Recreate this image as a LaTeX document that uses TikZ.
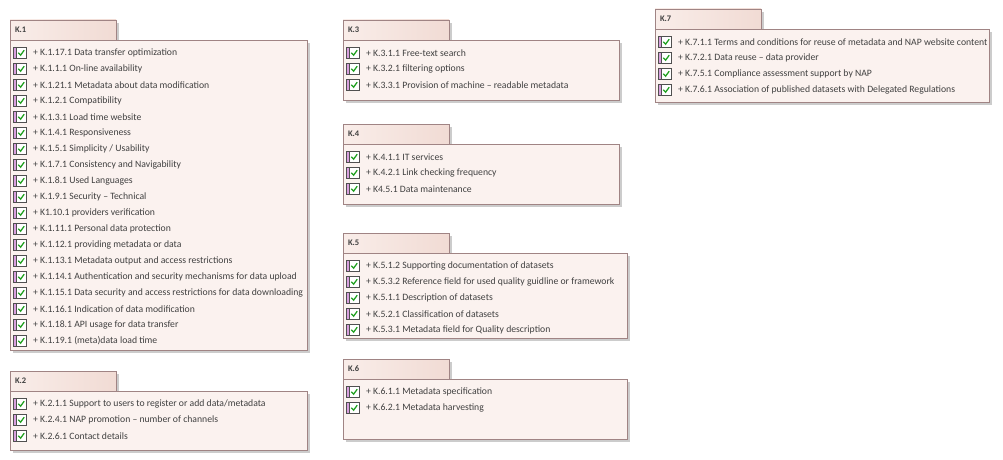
\documentclass[tikz,border=0pt]{standalone}
\usepackage{fontspec}
\setmainfont{Carlito}
\usepackage{xcolor}
\usetikzlibrary{positioning, shadows}
\definecolor{pkgline}{HTML}{A08484}
\definecolor{pkgfill}{HTML}{FBF2EF}
\definecolor{tableft}{HTML}{F9EDE9}
\definecolor{tabright}{HTML}{F1DBD4}
\definecolor{pkgshadow}{HTML}{CCCCCC}
\definecolor{chkgreen}{HTML}{1FA01F}
\definecolor{chkbar}{HTML}{D9A0DE}
\definecolor{chkline}{HTML}{505050}
\definecolor{txtgray}{HTML}{404040}
\tikzstyle{pkgtab} = [rectangle, anchor=north west, draw=pkgline, left color=tableft, right color=tabright, minimum height=20pt, text width=96pt, inner xsep=5pt, inner ysep=0pt, outer sep=0pt, align=left, text=txtgray, font=\fontsize{8.5}{9}\selectfont\bfseries, drop shadow={shadow xshift=3pt, shadow yshift=-3pt, fill=pkgshadow, opacity=1}]
\tikzstyle{pkgbody} = [rectangle, draw=pkgline, fill=pkgfill, inner sep=0pt, outer sep=0pt, drop shadow={shadow xshift=3pt, shadow yshift=-3pt, fill=pkgshadow, opacity=1}]
\tikzstyle{req} = [rectangle, anchor=north west, minimum height=16pt, inner sep=0pt, outer sep=0pt, text=txtgray, font=\fontsize{9.7}{10}\selectfont, execute at begin node=\hspace*{21pt},
  path picture={
    \coordinate (icw) at (path picture bounding box.west);
    \filldraw[draw=chkline, fill=white, line width=0.6pt] ([xshift=1pt, yshift=-5.3pt]icw) rectangle ([xshift=14pt, yshift=5.3pt]icw);
    \filldraw[draw=chkline, fill=chkbar, line width=0.6pt] ([xshift=1pt, yshift=-5.3pt]icw) rectangle ([xshift=3.8pt, yshift=5.3pt]icw);
    \draw[chkgreen, line width=1.25pt] ([xshift=6.3pt, yshift=0.3pt]icw) -- ([xshift=8.6pt, yshift=-2.2pt]icw) -- ([xshift=12.2pt, yshift=2.8pt]icw);
  }]
\tikzset{nextrow/.style={below=0pt of #1.south west, anchor=north west}}

\begin{document}
\begin{tikzpicture}[x=1pt, y=-1pt]
                \useasboundingbox (0,0) rectangle (1003,460);

% ---------------------------------------------
% Left column: K.1 and K.2
% ---------------------------------------------
                \node (k1) [pkgtab] at (10,20) {K.1};
                \node (k1body) [pkgbody, minimum width=297pt, minimum height=310pt, below right=0pt and 0pt of k1.south west] {};

                \node (k1_1) [req, below right=5pt and 2pt of k1body.north west] {+ K.1.17.1 Data transfer optimization};
                \node (k1_2) [req, nextrow=k1_1] {+ K.1.1.1 On-line availability};
                \node (k1_3) [req, nextrow=k1_2] {+ K.1.21.1 Metadata about data modification};
                \node (k1_4) [req, nextrow=k1_3] {+ K.1.2.1 Compatibility};
                \node (k1_5) [req, nextrow=k1_4] {+ K.1.3.1 Load time website};
                \node (k1_6) [req, nextrow=k1_5] {+ K.1.4.1 Responsiveness};
                \node (k1_7) [req, nextrow=k1_6] {+ K.1.5.1 Simplicity / Usability};
                \node (k1_8) [req, nextrow=k1_7] {+ K.1.7.1 Consistency and Navigability};
                \node (k1_9) [req, nextrow=k1_8] {+ K.1.8.1 Used Languages};
                \node (k1_10) [req, nextrow=k1_9] {+ K.1.9.1 Security – Technical};
                \node (k1_11) [req, nextrow=k1_10] {+ K1.10.1 providers verification};
                \node (k1_12) [req, nextrow=k1_11] {+ K.1.11.1 Personal data protection};
                \node (k1_13) [req, nextrow=k1_12] {+ K.1.12.1 providing metadata or data};
                \node (k1_14) [req, nextrow=k1_13] {+ K.1.13.1 Metadata output and access restrictions};
                \node (k1_15) [req, nextrow=k1_14] {+ K.1.14.1 Authentication and security mechanisms for data upload};
                \node (k1_16) [req, nextrow=k1_15] {+ K.1.15.1 Data security and access restrictions for data downloading};
                \node (k1_17) [req, nextrow=k1_16] {+ K.1.16.1 Indication of data modification};
                \node (k1_18) [req, nextrow=k1_17] {+ K.1.18.1 API usage for data transfer};
                \node (k1_19) [req, nextrow=k1_18] {+ K.1.19.1 (meta)data load time};

                \node (k2) [pkgtab] at (10,371) {K.2};
                \node (k2body) [pkgbody, minimum width=297pt, minimum height=59pt, below right=0pt and 0pt of k2.south west] {};

                \node (k2_1) [req, below right=5pt and 2pt of k2body.north west] {+ K.2.1.1 Support to users to register or add data/metadata};
                \node (k2_2) [req, nextrow=k2_1] {+ K.2.4.1 NAP promotion – number of channels};
                \node (k2_3) [req, nextrow=k2_2] {+ K.2.6.1 Contact details};

% ---------------------------------------------
% Middle column: K.3 to K.6
% ---------------------------------------------
                \node (k3) [pkgtab] at (343,20) {K.3};
                \node (k3body) [pkgbody, minimum width=276pt, minimum height=60pt, below right=0pt and 0pt of k3.south west] {};

                \node (k3_1) [req, below right=5pt and 2pt of k3body.north west] {+ K.3.1.1 Free-text search};
                \node (k3_2) [req, nextrow=k3_1] {+ K.3.2.1 filtering options};
                \node (k3_3) [req, nextrow=k3_2] {+ K.3.3.1 Provision of machine – readable metadata};

                \node (k4) [pkgtab] at (343,124) {K.4};
                \node (k4body) [pkgbody, minimum width=276pt, minimum height=60pt, below right=0pt and 0pt of k4.south west] {};

                \node (k4_1) [req, below right=5pt and 2pt of k4body.north west] {+ K.4.1.1 IT services};
                \node (k4_2) [req, nextrow=k4_1] {+ K.4.2.1 Link checking frequency};
                \node (k4_3) [req, nextrow=k4_2] {+ K4.5.1 Data maintenance};

                \node (k5) [pkgtab] at (343,233) {K.5};
                \node (k5body) [pkgbody, minimum width=284pt, minimum height=85pt, below right=0pt and 0pt of k5.south west] {};

                \node (k5_1) [req, below right=5pt and 2pt of k5body.north west] {+ K.5.1.2 Supporting documentation of datasets};
                \node (k5_2) [req, nextrow=k5_1] {+ K.5.3.2 Reference field for used quality guidline or framework};
                \node (k5_3) [req, nextrow=k5_2] {+ K.5.1.1 Description of datasets};
                \node (k5_4) [req, nextrow=k5_3] {+ K.5.2.1 Classification of datasets};
                \node (k5_5) [req, nextrow=k5_4] {+ K.5.3.1 Metadata field for Quality description};

                \node (k6) [pkgtab] at (343,359) {K.6};
                \node (k6body) [pkgbody, minimum width=284pt, minimum height=60pt, below right=0pt and 0pt of k6.south west] {};

                \node (k6_1) [req, below right=5pt and 2pt of k6body.north west] {+ K.6.1.1 Metadata specification};
                \node (k6_2) [req, nextrow=k6_1] {+ K.6.2.1 Metadata harvesting};

% ---------------------------------------------
% Right column: K.7
% ---------------------------------------------
                \node (k7) [pkgtab] at (655,9) {K.7};
                \node (k7body) [pkgbody, minimum width=334pt, minimum height=73pt, below right=0pt and 0pt of k7.south west] {};

                \node (k7_1) [req, below right=5pt and 2pt of k7body.north west] {+ K.7.1.1 Terms and conditions for reuse of metadata and NAP website content};
                \node (k7_2) [req, nextrow=k7_1] {+ K.7.2.1 Data reuse – data provider};
                \node (k7_3) [req, nextrow=k7_2] {+ K.7.5.1 Compliance assessment support by NAP};
                \node (k7_4) [req, nextrow=k7_3] {+ K.7.6.1 Association of published datasets with Delegated Regulations};

            \end{tikzpicture}
\end{document}
